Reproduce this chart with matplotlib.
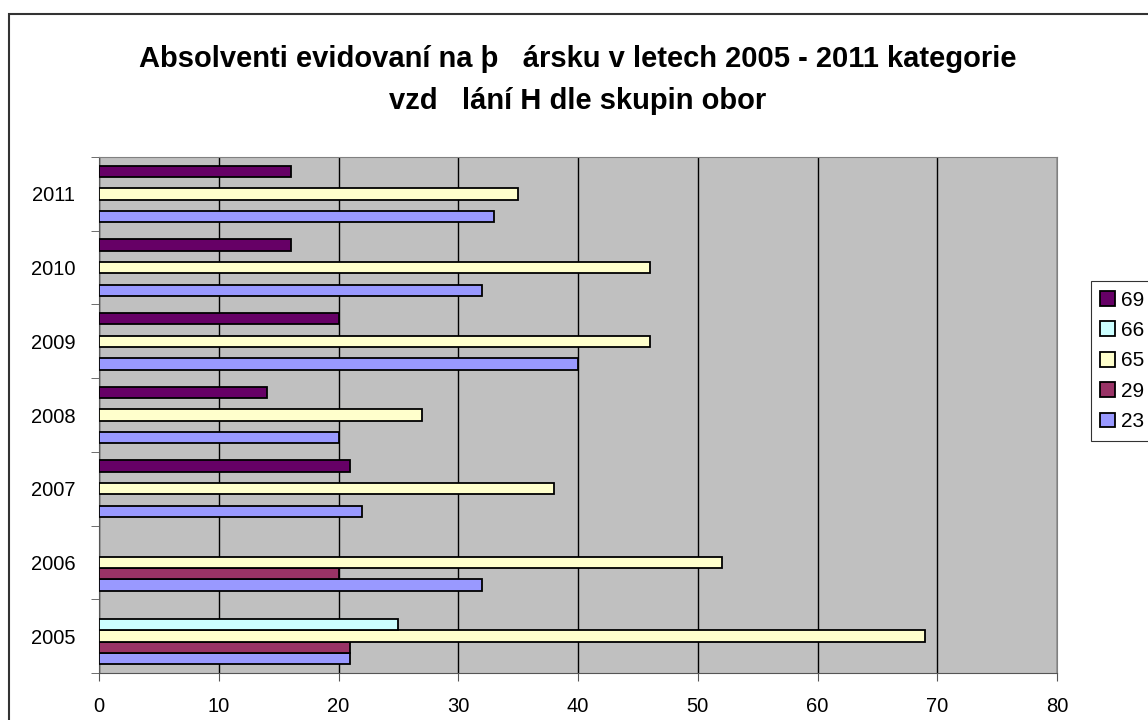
import numpy as np
import matplotlib
matplotlib.use("Agg")
import matplotlib.pyplot as plt
from matplotlib.patches import Rectangle

years = ["2005", "2006", "2007", "2008", "2009", "2010", "2011"]
series = ["23", "29", "65", "66", "69"]
v23 = [21, 32, 22, 20, 40, 32, 33]
v29 = [21, 20, 0, 0, 0, 0, 0]
v65 = [69, 52, 38, 27, 46, 46, 35]
v66 = [25, 0, 0, 0, 0, 0, 0]
v69 = [0, 0, 21, 14, 20, 16, 16]
colors = ["#9999FF", "#993366", "#FFFFCC", "#CCFFFF", "#660066"]

title = ("Absolventi evidovaní na þ   ársku v letech 2005 - 2011 kategorie\n"
         "vzd   lání H dle skupin obor")

plt.rcParams['font.family'] = ['Liberation Sans', 'DejaVu Sans']

fig = plt.figure(figsize=(11.48, 7.2), dpi=100)
ax = fig.add_axes([99 / 1148, 1 - 673 / 720, (1057 - 99) / 1148, (673 - 157) / 720])
ax.set_facecolor("#C0C0C0")

# chart area border (left and top visible)
fig.patches.append(Rectangle((9 / 1148, -0.1), 1.2, (720 - 14) / 720 + 0.1,
                             transform=fig.transFigure, fill=False,
                             edgecolor="#333333", lw=1.5))

y = np.arange(len(years))
w = 1 / 6.5
values = [v23, v29, v65, v66, v69]
for i, (name, vals) in enumerate(zip(series, values)):
    vals = np.array(vals)
    pos = y - 2 * w + i * w
    m = vals > 0
    ax.barh(pos[m], vals[m], height=w, color=colors[i], edgecolor="black",
            linewidth=1.3, label=name, zorder=3)

ax.set_xlim(0, 80)
ax.set_ylim(-0.5, len(years) - 0.5)
ax.set_xticks(range(0, 81, 10))
ax.xaxis.grid(True, color="black", lw=1, zorder=1)
ax.set_axisbelow(True)

ax.set_yticks(y)
ax.set_yticklabels(years)
ax.tick_params(axis="y", length=0, pad=17, labelsize=14.5)
ax.set_yticks(np.arange(-0.5, len(years), 1), minor=True)
ax.tick_params(axis="y", which="minor", length=6, direction="out", color="#555555")
ax.tick_params(axis="x", length=6, direction="out", color="#555555", labelsize=14.5, pad=11)

for s in ["top", "right"]:
    ax.spines[s].set_color("#808080")
for s in ["left", "bottom"]:
    ax.spines[s].set_color("#555555")

fig.text(578 / 1148, 1 - 80 / 720, title, ha="center", va="center",
         fontsize=21, fontweight="bold", linespacing=1.6)

handles, labels = ax.get_legend_handles_labels()
leg = fig.legend(handles[::-1], labels[::-1], loc="center left",
                 bbox_to_anchor=(1091 / 1148, 1 - 361 / 720), frameon=True,
                 fancybox=False, fontsize=15, handlelength=0.7, handleheight=0.7,
                 handletextpad=0.3, labelspacing=0.55, borderpad=0.45,
                 borderaxespad=0)
leg.get_frame().set_edgecolor("black")
leg.get_frame().set_linewidth(0.8)

fig.savefig("out.png", dpi=100)
